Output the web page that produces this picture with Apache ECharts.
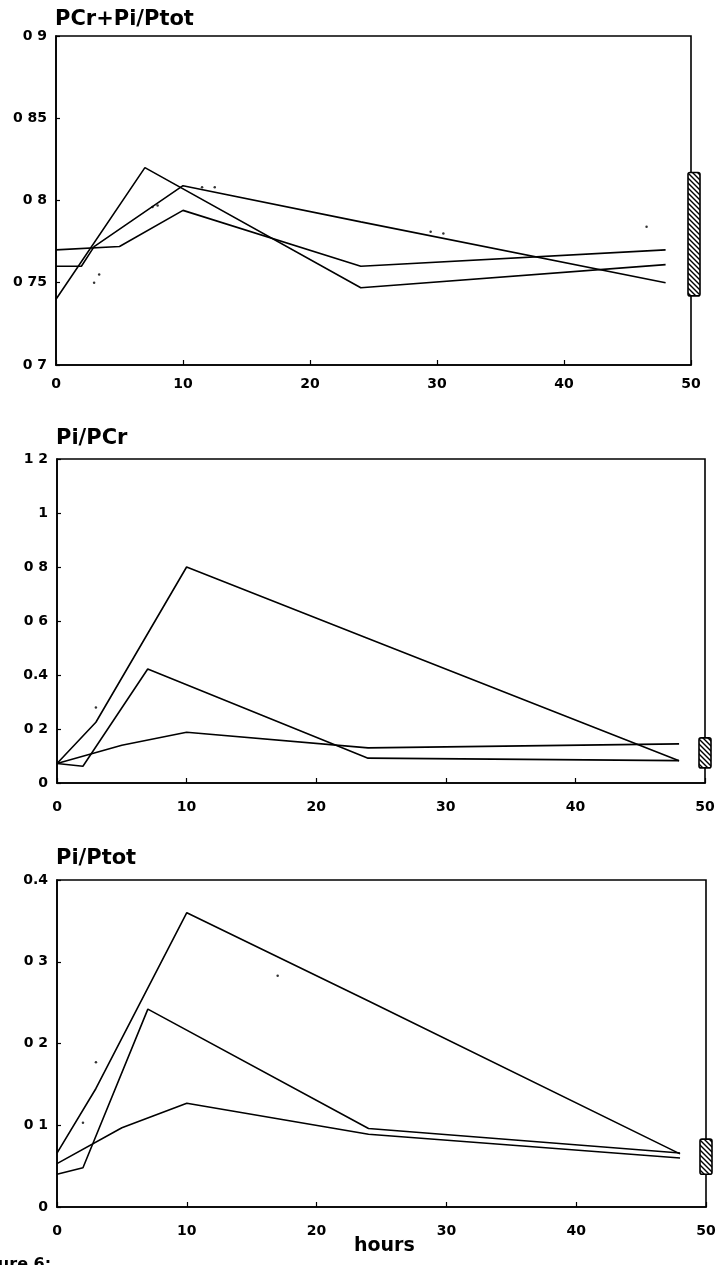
<!DOCTYPE html>
<html><head><meta charset="utf-8">
<script src="https://cdn.jsdelivr.net/npm/echarts@6/dist/echarts.min.js"></script>
<style>html,body{margin:0;padding:0;background:#fff}#c{width:719px;height:1265px}</style>
</head><body><div id="c"></div>
<script>
// ---------- DATA ----------
const panelTitles = ['PCr+Pi/Ptot', 'Pi/PCr', 'Pi/Ptot'];
const xAxisName = 'hours';
const xTickLabels = ['0', '10', '20', '30', '40', '50'];
const p1TickLabels = ['0 7', '0 75', '0 8', '0 85', '0 9'];
const p2TickLabels = ['0', '0 2', '0.4', '0 6', '0 8', '1', '1 2'];
const p3TickLabels = ['0', '0 1', '0 2', '0 3', '0.4'];

// Panel 1: PCr+Pi/Ptot
const p1A_x = [0, 7, 24, 48];
const p1A_y = [0.740, 0.820, 0.747, 0.761];
const p1B_x = [0, 2, 3, 10, 24, 48];
const p1B_y = [0.760, 0.760, 0.772, 0.809, 0.787, 0.750];
const p1C_x = [0, 5, 10, 24, 48];
const p1C_y = [0.770, 0.772, 0.794, 0.760, 0.770];
const p1Range = [0.742, 0.817];
const p1Dots_x = [3.0, 3.4, 46.5, 7.6, 8.0, 11.5, 12.5, 29.5, 30.5];
const p1Dots_y = [0.750, 0.755, 0.784, 0.796, 0.797, 0.808, 0.808, 0.781, 0.780];

// Panel 2: Pi/PCr
const p2P_x = [0, 3, 10, 24, 48];
const p2P_y = [0.072, 0.225, 0.800, 0.535, 0.082];
const p2Q_x = [0, 2, 7, 24, 48];
const p2Q_y = [0.072, 0.062, 0.422, 0.092, 0.083];
const p2R_x = [0, 5, 10, 24, 48];
const p2R_y = [0.072, 0.140, 0.188, 0.130, 0.145];
const p2Range = [0.056, 0.167];
const p2Dots_x = [3.0];
const p2Dots_y = [0.280];

// Panel 3: Pi/Ptot
const p3T_x = [0, 3, 10, 24, 48];
const p3T_y = [0.066, 0.145, 0.360, 0.252, 0.065];
const p3M_x = [0, 2, 7, 24, 48];
const p3M_y = [0.040, 0.048, 0.242, 0.096, 0.066];
const p3L_x = [0, 5, 10, 24, 48];
const p3L_y = [0.053, 0.097, 0.127, 0.089, 0.060];
const p3Range = [0.040, 0.083];
const p3Dots_x = [3.0, 17.0, 2.0];
const p3Dots_y = [0.177, 0.283, 0.103];

const rangeX = 50;

// ---------- CHART ----------
const FONT = 'DejaVu Sans';
function pairs(xs, ys) { return xs.map((x, i) => [x, ys[i]]); }

const hatch = document.createElement('canvas');
hatch.width = 5; hatch.height = 5;
(function () {
  const c = hatch.getContext('2d');
  c.fillStyle = '#fff'; c.fillRect(0, 0, 5, 5);
  c.strokeStyle = '#000'; c.lineWidth = 1.4;
  c.beginPath();
  c.moveTo(-1, -1); c.lineTo(6, 6);
  c.moveTo(-1, 4); c.lineTo(1, 6);
  c.moveTo(4, -1); c.lineTo(6, 1);
  c.stroke();
})();

const grids = [
  { left: 56, right: 28, top: 36, height: 329 },
  { left: 57, right: 14, top: 459, height: 324 },
  { left: 57, right: 13, top: 880, height: 327 }
];
const yCfg = [
  { min: 0.7, max: 0.9, interval: 0.05, labels: p1TickLabels },
  { min: 0, max: 1.2, interval: 0.2, labels: p2TickLabels },
  { min: 0, max: 0.4, interval: 0.1, labels: p3TickLabels }
];
const lineSets = [
  [pairs(p1A_x, p1A_y), pairs(p1B_x, p1B_y), pairs(p1C_x, p1C_y)],
  [pairs(p2P_x, p2P_y), pairs(p2Q_x, p2Q_y), pairs(p2R_x, p2R_y)],
  [pairs(p3T_x, p3T_y), pairs(p3M_x, p3M_y), pairs(p3L_x, p3L_y)]
];
const dotSets = [pairs(p1Dots_x, p1Dots_y), pairs(p2Dots_x, p2Dots_y), pairs(p3Dots_x, p3Dots_y)];
const ranges = [p1Range, p2Range, p3Range];
const barShift = [3, 0, 0];
const titleTops = [9, 428, 848];
const xLabelMargin = [12, 17, 17];

const axisLineStyle = { color: '#000', width: 1.6 };
const labelStyle = { color: '#000', fontFamily: FONT, fontWeight: 'bold', fontSize: 14 };

const option = {
  animation: false,
  backgroundColor: '#fff',
  title: panelTitles.map((t, i) => ({
    text: t, left: grids[i].left - 1, top: titleTops[i], padding: 0,
    textStyle: { color: '#000', fontFamily: FONT, fontWeight: 'bold', fontSize: 21 }
  })),
  grid: grids.map(g => Object.assign({ show: true, borderColor: '#000', borderWidth: 1.6, backgroundColor: 'transparent' }, g)),
  xAxis: grids.map((g, i) => ({
    type: 'value', gridIndex: i, min: 0, max: 50, interval: 10,
    axisLine: { show: true, lineStyle: axisLineStyle },
    axisTick: { show: true, inside: true, length: 5, lineStyle: { color: '#000', width: 1.2 } },
    splitLine: { show: false },
    axisLabel: Object.assign({ margin: xLabelMargin[i], formatter: (v) => xTickLabels[Math.round(v / 10)] }, labelStyle)
  })),
  yAxis: yCfg.map((c, i) => ({
    type: 'value', gridIndex: i, min: c.min, max: c.max, interval: c.interval,
    axisLine: { show: true, lineStyle: axisLineStyle },
    axisTick: { show: true, inside: true, length: 4, lineStyle: { color: '#000', width: 1.2 } },
    splitLine: { show: false },
    axisLabel: Object.assign({ margin: 9, formatter: (v) => c.labels[Math.round((v - c.min) / c.interval)] }, labelStyle)
  })),
  graphic: [
    { type: 'text', left: 354, top: 1237, style: { text: xAxisName, fill: '#000', font: 'bold 19px "DejaVu Sans"' } },
    { type: 'text', left: -30, top: 1257, style: { text: 'Figure 6:', fill: '#000', font: 'bold 16px "DejaVu Sans"' } }
  ],
  series: []
};

lineSets.forEach((set, i) => {
  set.forEach(d => {
    option.series.push({
      type: 'line', xAxisIndex: i, yAxisIndex: i, data: d,
      showSymbol: false, silent: true,
      lineStyle: { color: '#000', width: 1.6 }
    });
  });
  option.series.push({
    type: 'scatter', xAxisIndex: i, yAxisIndex: i, data: dotSets[i], silent: true,
    symbol: 'circle', symbolSize: 2.5, itemStyle: { color: '#000' }
  });
  option.series.push({
    type: 'custom', xAxisIndex: i, yAxisIndex: i, clip: false, silent: true, z: 5,
    data: [[rangeX, ranges[i][0], ranges[i][1]]],
    encode: { x: 0, y: [1, 2] },
    renderItem: function (params, api) {
      const lo = api.coord([api.value(0), api.value(1)]);
      const hi = api.coord([api.value(0), api.value(2)]);
      const w = 12;
      return {
        type: 'rect',
        shape: { x: lo[0] - w / 2 + barShift[i], y: hi[1], width: w, height: lo[1] - hi[1], r: 2 },
        style: { fill: { image: hatch, repeat: 'repeat' }, stroke: '#000', lineWidth: 1.6 }
      };
    }
  });
});

const chart = echarts.init(document.getElementById('c'), null, { renderer: 'canvas' });
chart.setOption(option);
</script>
</body></html>
